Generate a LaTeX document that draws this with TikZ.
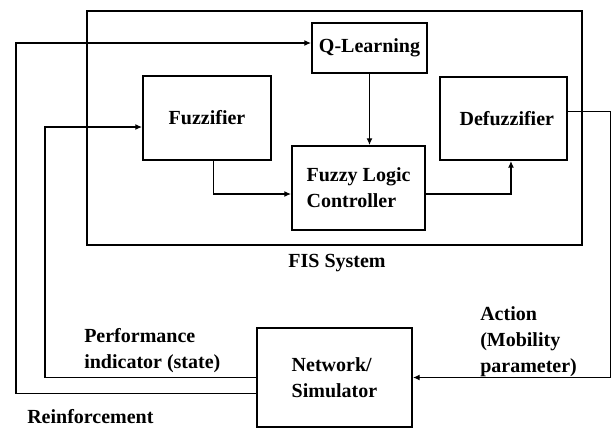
\documentclass[tikz,border=0pt]{standalone}
\usepackage{fontspec}
\setmainfont{Liberation Serif}
\usetikzlibrary{arrows.meta}

\newcommand{\figfont}{\fontsize{15}{19.5}\selectfont\bfseries}

\tikzset{
    block/.style={draw, line width=1.6pt, inner sep=0pt, align=center},
    flow/.style={-{Latex[length=5pt,width=4.5pt]}, line width=0.8pt},
    lbl/.style={inner sep=0pt, align=left}
}

\begin{document}
\begin{tikzpicture}[x=0.75pt, y=-0.75pt, every node/.style={font=\figfont}]
    \useasboundingbox (0,0) rectangle (611,430);

    % FIS system frame
    \node[draw, line width=1pt, minimum width=371.25pt, minimum height=175.5pt] (fis) at (334.5,128) {};
    \node[lbl] (fislbl) at (337,263) {FIS System};

    % Blocks inside the FIS
    \node[block, minimum width=86.25pt, minimum height=37.5pt] (ql) at (369.5,48) {Q-Learning};
    \node[block, minimum width=96pt, minimum height=63pt] (fuz) at (207,118) {Fuzzifier};
    \node[block, align=left, minimum width=99.75pt, minimum height=63pt] (flc) at (358.5,188) {Fuzzy Logic\\Controller};
    \node[block, minimum width=95.25pt, minimum height=62.25pt] (dfz) at (503.5,118.5) {\hspace{5pt}Defuzzifier};

    % Network / simulator
    \node[block, align=left, minimum width=116.25pt, minimum height=74.25pt] (net) at (334.5,377.5) {Network/\\Simulator};

    % Labels
    \node[lbl, anchor=west] (perf) at (84,351) {Performance\\indicator (state)};
    \node[lbl, anchor=west] (reinf) at (27,417) {Reinforcement};
    \node[lbl, anchor=west] (act) at (480,342) {Action\\(Mobility\\parameter)};

    % Corners of the feedback loops
    \coordinate (rc) at (16,43);
    \coordinate (pc) at (45,127);

    % Internal flow
    \draw[flow] ([xshift=5pt]fuz.south) |- ([yshift=-4.5pt]flc.west);
    \draw[flow] (ql.south) -- (ql.south |- flc.north);
    \draw[flow] ([yshift=-4.5pt]flc.east) -| ([xshift=5.6pt]dfz.south);

    % Action to the network
    \draw[flow] ([yshift=5.6pt]dfz.east) -- ++(31.5pt,0) |- (net.east);

    % Feedback from the network
    \draw[flow] (net.west) -| (pc) -- (pc -| fuz.west);
    \draw[flow] ([yshift=-12pt]net.west) -| (rc) -- (rc -| ql.west);
\end{tikzpicture}
\end{document}
